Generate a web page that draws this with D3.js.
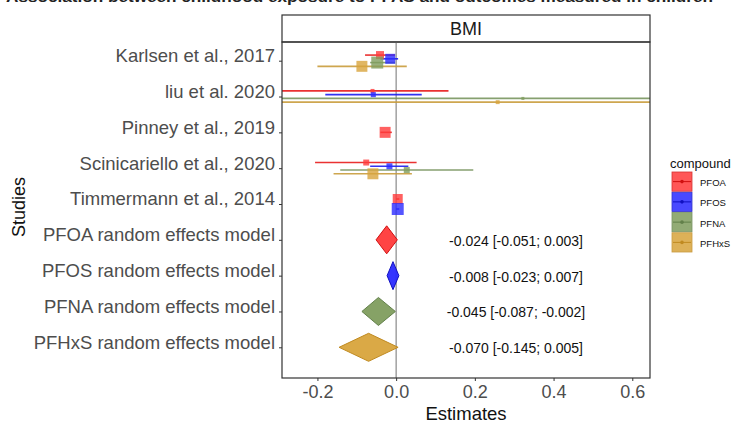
<!DOCTYPE html>
<html>
<head>
<meta charset="utf-8">
<script src="https://cdn.jsdelivr.net/npm/d3@7"></script>
<style>
  body { margin: 0; background: #fff; }
  svg { font-family: "Liberation Sans", Arial, sans-serif; }
</style>
</head>
<body>
<div id="chart"></div>
<script>
// ---- data ----
let studies = ["Karlsen et al., 2017", "liu et al. 2020", "Pinney et al., 2019",
    "Scinicariello et al., 2020", "Timmermann et al., 2014",
    "PFOA random effects model", "PFOS random effects model",
    "PFNA random effects model", "PFHxS random effects model"];
let compounds = ["PFOA", "PFOS", "PFNA", "PFHxS"];

// study estimates: [study, compound, estimate, lower, upper, weight]
let studyRows = [
    ["Karlsen et al., 2017", "PFOA", -0.041, -0.079, -0.003, 25],
    ["Karlsen et al., 2017", "PFOS", -0.015, -0.040, 0.005, 39],
    ["Karlsen et al., 2017", "PFNA", -0.048, -0.066, -0.003, 56],
    ["Karlsen et al., 2017", "PFHxS", -0.087, -0.200, 0.027, 47],
    ["liu et al. 2020", "PFOA", -0.060, -0.320, 0.133, 6],
    ["liu et al. 2020", "PFOS", -0.058, -0.180, 0.065, 10],
    ["liu et al. 2020", "PFNA", 0.322, -0.400, 1.000, 3.5],
    ["liu et al. 2020", "PFHxS", 0.258, -0.400, 1.000, 6],
    ["Pinney et al., 2019", "PFOA", -0.028, -0.040, -0.011, 47],
    ["Scinicariello et al., 2020", "PFOA", -0.076, -0.206, 0.052, 14],
    ["Scinicariello et al., 2020", "PFOS", -0.017, -0.066, 0.031, 14],
    ["Scinicariello et al., 2020", "PFNA", 0.027, -0.142, 0.196, 14],
    ["Scinicariello et al., 2020", "PFHxS", -0.059, -0.159, 0.040, 47],
    ["Timmermann et al., 2014", "PFOA", 0.004, 0.000, 0.008, 39],
    ["Timmermann et al., 2014", "PFOS", 0.004, 0.000, 0.008, 56]
];

// pooled random effects models
let modelCompound = ["PFOA", "PFOS", "PFNA", "PFHxS"];
let modelEst = [-0.024, -0.008, -0.045, -0.070];
let modelLo = [-0.051, -0.023, -0.087, -0.145];
let modelHi = [0.003, 0.007, -0.002, 0.005];

let xTicks = [-0.2, 0.0, 0.2, 0.4, 0.6];

// ---- layout ----
let W = 737, H = 426;
let panel = {left: 282, right: 650, top: 42, bottom: 378};

let fillCol = {PFOA: "#ff3a3a", PFOS: "#2a2aff", PFNA: "#7f9d5e", PFHxS: "#d8a43c"};
let lineCol = {PFOA: "#e81c1c", PFOS: "#1c1cf0", PFNA: "#7a9660", PFHxS: "#c99d3c"};
let edgeCol = {PFOA: "#d01010", PFOS: "#1010c0", PFNA: "#62804a", PFHxS: "#c08a20"};

let svg = d3.select("#chart").append("svg")
    .attr("width", W).attr("height", H);

// title (cropped at the top edge in the original)
svg.append("text")
    .attr("x", 6).attr("y", 2)
    .attr("font-size", 15).attr("font-weight", "bold").attr("fill", "#222")
    .attr("textLength", 707).attr("lengthAdjust", "spacingAndGlyphs")
    .text("Association between childhood exposure to PFAS and outcomes measured in children");

let x = d3.scaleLinear().domain([-0.29, 0.645]).range([panel.left, panel.right]);
let y = d3.scalePoint().domain(studies).range([60.7, 347.3]);
let size = d3.scaleSqrt().domain([0, 100]).range([0, 16]);

// strip
svg.append("rect")
    .attr("x", panel.left).attr("y", 15)
    .attr("width", panel.right - panel.left).attr("height", panel.top - 15)
    .attr("fill", "#fff").attr("stroke", "#333").attr("stroke-width", 1.2);
svg.append("text")
    .attr("x", (panel.left + panel.right) / 2).attr("y", 29)
    .attr("text-anchor", "middle").attr("dominant-baseline", "central")
    .attr("font-size", 18).attr("fill", "#1a1a1a").text("BMI");

// clip for panel
svg.append("clipPath").attr("id", "clip").append("rect")
    .attr("x", panel.left).attr("y", panel.top)
    .attr("width", panel.right - panel.left).attr("height", panel.bottom - panel.top);

let g = svg.append("g").attr("clip-path", "url(#clip)");

// zero line
g.append("line")
    .attr("x1", x(0)).attr("x2", x(0))
    .attr("y1", panel.top).attr("y2", panel.bottom)
    .attr("stroke", "#8a8a8a").attr("stroke-width", 1.2);

// dodge within each study
let rows = studyRows.map(r => ({study: r[0], compound: r[1], est: r[2], lo: r[3], hi: r[4], w: r[5]}));
let byStudy = d3.group(rows, d => d.study);
rows.forEach(d => {
    let present = byStudy.get(d.study).map(e => e.compound);
    let width = present.length > 1 ? (present.length === 2 ? 20 : 15) : 0;
    let dodge = d3.scaleBand().domain(present).range([-width / 2, width / 2]);
    d.yy = y(d.study) + dodge(d.compound) + dodge.bandwidth() / 2;
});

// CI lines
g.selectAll(".ci").data(rows).enter().append("line")
    .attr("class", "ci")
    .attr("x1", d => x(d.lo)).attr("x2", d => x(d.hi))
    .attr("y1", d => d.yy).attr("y2", d => d.yy)
    .attr("stroke", d => lineCol[d.compound]).attr("stroke-width", 1.6)
    .attr("opacity", 0.9);

// squares
g.selectAll(".pt").data(rows).enter().append("rect")
    .attr("class", "pt")
    .attr("x", d => x(d.est) - size(d.w) / 2)
    .attr("y", d => d.yy - size(d.w) / 2)
    .attr("width", d => size(d.w)).attr("height", d => size(d.w))
    .attr("fill", d => fillCol[d.compound]).attr("opacity", 0.8);

// diamonds
let models = modelCompound.map((c, i) => ({compound: c, est: modelEst[i], lo: modelLo[i], hi: modelHi[i],
    label: c + " random effects model"}));
let dh = 14;
g.selectAll(".dia").data(models).enter().append("path")
    .attr("class", "dia")
    .attr("d", d => {
        let cy = y(d.label);
        return "M" + x(d.lo) + "," + cy + "L" + x(d.est) + "," + (cy - dh) +
            "L" + x(d.hi) + "," + cy + "L" + x(d.est) + "," + (cy + dh) + "Z";
    })
    .attr("fill", d => fillCol[d.compound]).attr("fill-opacity", 0.95)
    .attr("stroke", d => edgeCol[d.compound]).attr("stroke-width", 1);

// annotation text
let fmt = v => v.toFixed(3);
svg.selectAll(".ann").data(models).enter().append("text")
    .attr("class", "ann")
    .attr("x", 516).attr("y", d => y(d.label) + 1)
    .attr("text-anchor", "middle").attr("dominant-baseline", "central")
    .attr("font-size", 14).attr("fill", "#111")
    .text(d => fmt(d.est) + " [" + fmt(d.lo) + "; " + fmt(d.hi) + "]");

// panel border
svg.append("rect")
    .attr("x", panel.left).attr("y", panel.top)
    .attr("width", panel.right - panel.left).attr("height", panel.bottom - panel.top)
    .attr("fill", "none").attr("stroke", "#333").attr("stroke-width", 1.2);

// axes
let yAxis = d3.axisLeft(y).tickSize(3).tickPadding(4);
let yg = svg.append("g").attr("transform", "translate(" + panel.left + ",0)").call(yAxis);
yg.select(".domain").remove();
yg.selectAll(".tick line").attr("stroke", "#333");
yg.selectAll(".tick text").attr("font-size", 18.5).attr("fill", "#4d4d4d")
    .attr("y", -5).attr("font-family", "Liberation Sans, Arial, sans-serif");

let xAxis = d3.axisBottom(x).tickValues(xTicks).tickFormat(d => d.toFixed(1)).tickSize(3).tickPadding(4);
let xg = svg.append("g").attr("transform", "translate(0," + panel.bottom + ")").call(xAxis);
xg.select(".domain").remove();
xg.selectAll(".tick line").attr("stroke", "#333");
xg.selectAll(".tick text").attr("font-size", 18).attr("fill", "#4d4d4d")
    .attr("font-family", "Liberation Sans, Arial, sans-serif");

svg.append("text")
    .attr("x", (panel.left + panel.right) / 2).attr("y", 420)
    .attr("text-anchor", "middle").attr("font-size", 18.5).attr("fill", "#111")
    .text("Estimates");

svg.append("text")
    .attr("transform", "translate(25,207) rotate(-90)")
    .attr("text-anchor", "middle").attr("font-size", 18).attr("fill", "#111")
    .text("Studies");

// legend
let leg = svg.append("g").attr("transform", "translate(672,0)");
leg.append("text").attr("x", -2).attr("y", 163).attr("dominant-baseline", "central")
    .attr("font-size", 13).attr("fill", "#111").text("compound");
let ly = d3.scaleBand().domain(compounds).range([172, 252]).paddingInner(0.05);
let keys = leg.selectAll(".key").data(compounds).enter().append("g")
    .attr("class", "key").attr("transform", d => "translate(0," + ly(d) + ")");
keys.append("rect").attr("width", 20).attr("height", ly.bandwidth())
    .attr("fill", d => fillCol[d]).attr("opacity", 0.85)
    .attr("stroke", d => edgeCol[d]).attr("stroke-width", 0.8);
keys.append("line").attr("x1", 1).attr("x2", 19)
    .attr("y1", ly.bandwidth() / 2).attr("y2", ly.bandwidth() / 2)
    .attr("stroke", d => edgeCol[d]).attr("stroke-width", 1);
keys.append("circle").attr("cx", 10).attr("cy", ly.bandwidth() / 2).attr("r", 1.8)
    .attr("fill", d => edgeCol[d]);
keys.append("text").attr("x", 28).attr("y", ly.bandwidth() / 2 + 1)
    .attr("dominant-baseline", "central").attr("font-size", 9.5).attr("fill", "#111")
    .text(d => d);
</script>
</body>
</html>
